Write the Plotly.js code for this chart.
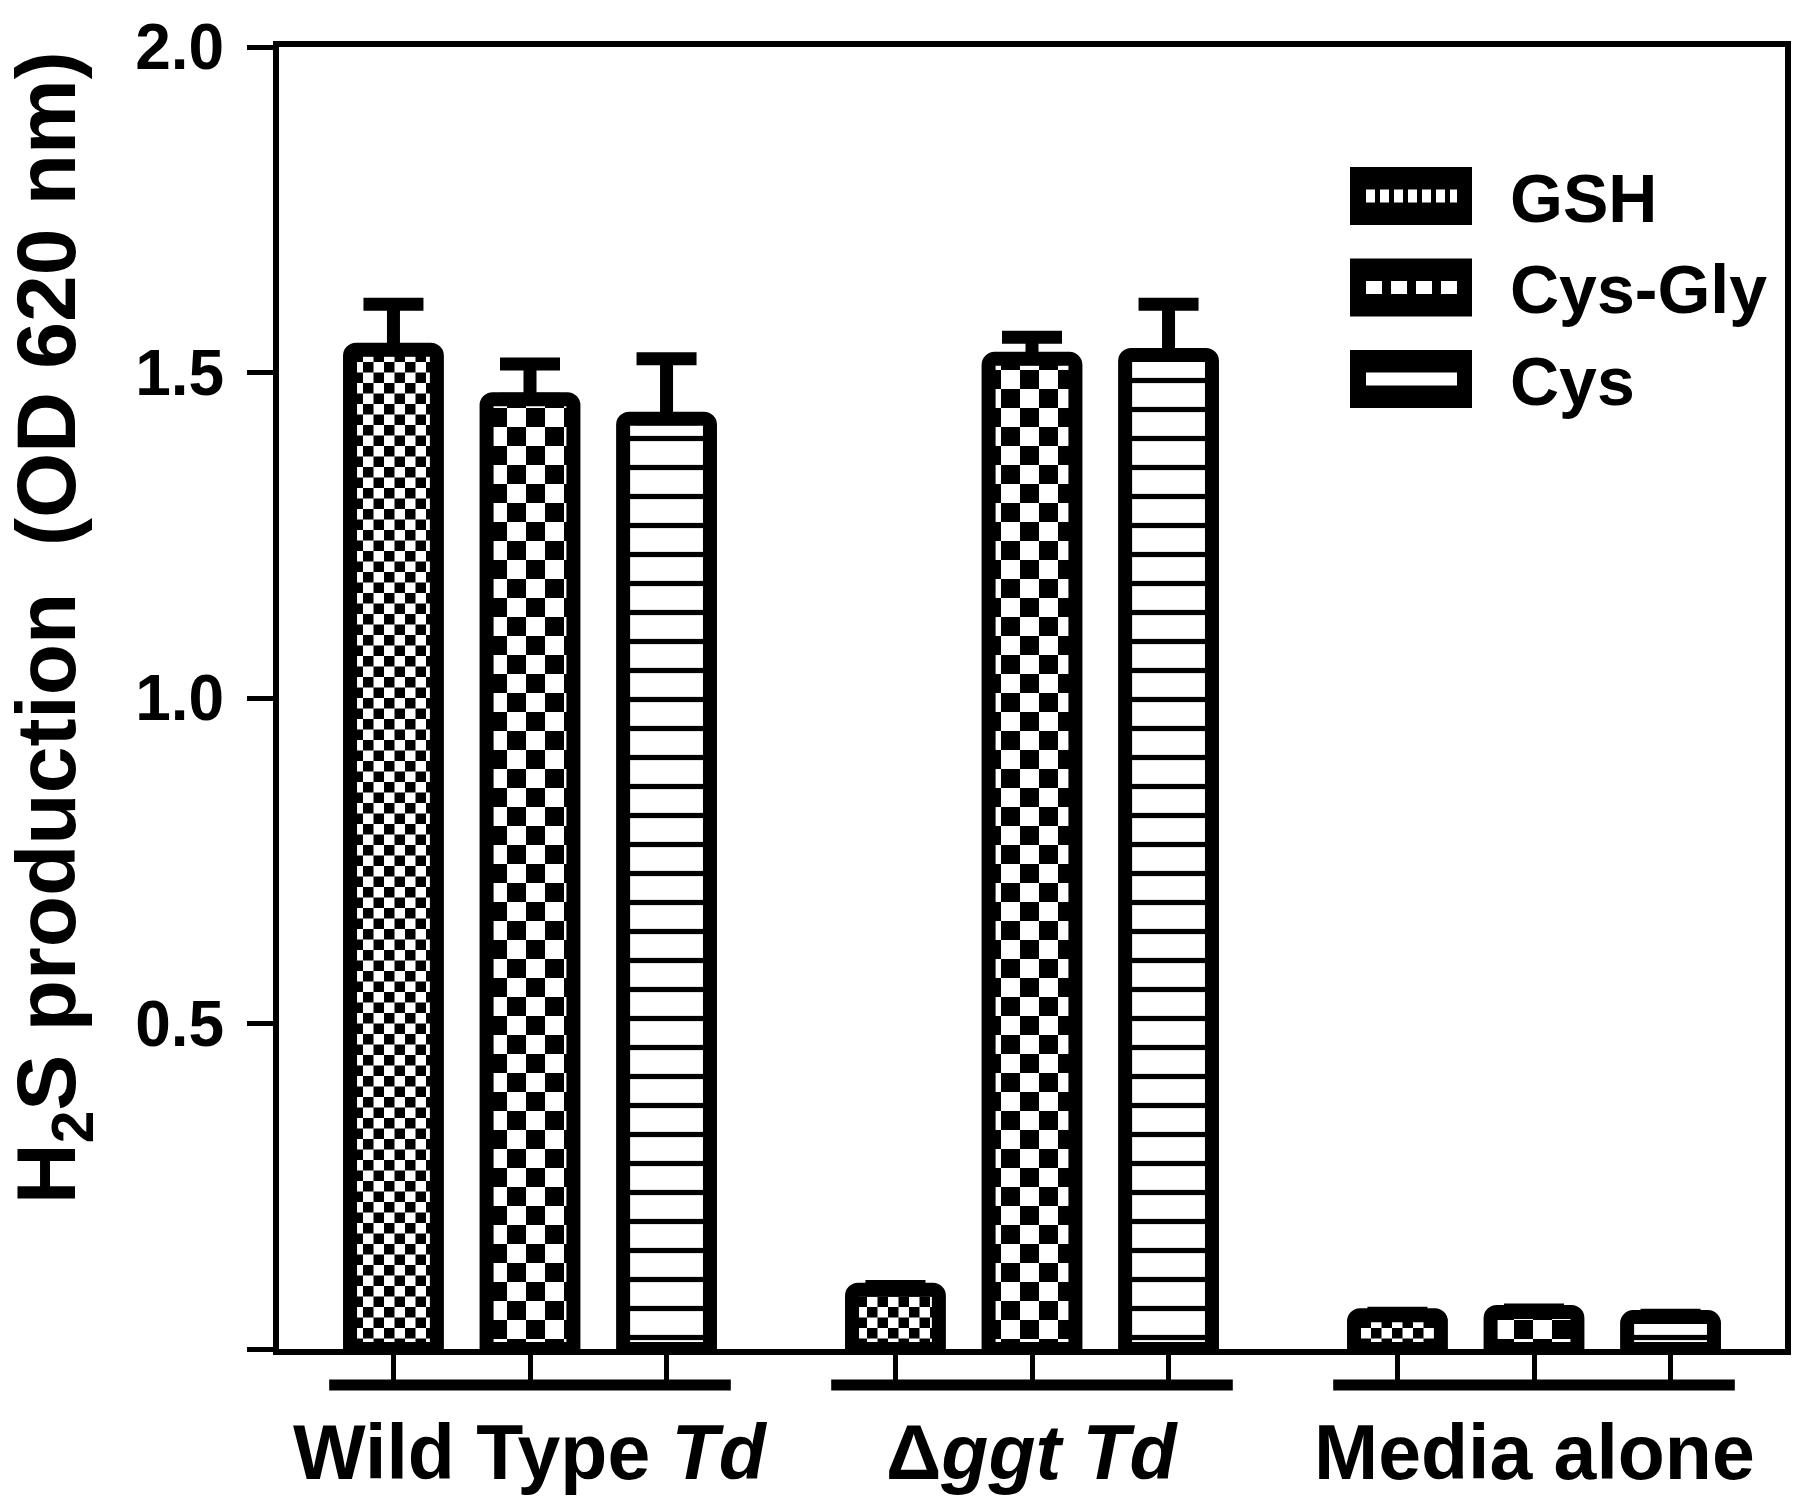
<!DOCTYPE html>
<html>
<head>
<meta charset="utf-8">
<script src="https://cdn.plot.ly/plotly-3.0.1.min.js"></script>
<style>html,body{margin:0;padding:0;background:#fff;}#chart{width:1800px;height:1506px;}</style>
</head>
<body>
<div id="chart"></div>
<script>
// ---- data ----
const groups = ['Wild Type <i>Td</i>', 'Δ<i>ggt</i> <i>Td</i>', 'Media alone'];
const seriesNames = ['GSH', 'Cys-Gly', 'Cys'];
const gshValues = [1.535, 0.091, 0.052];
const gshErrors = [0.070, 0.005, 0.003];
const cysGlyValues = [1.459, 1.521, 0.057];
const cysGlyErrors = [0.054, 0.033, 0.003];
const cysValues = [1.429, 1.527, 0.049];
const cysErrors = [0.092, 0.078, 0.003];
const yTickVals = [0.5, 1.0, 1.5, 2.0];
const yTickText = ['0.5', '1.0', '1.5', '2.0'];
const yZeroTick = [0];
const yTitle = 'H<sub>2</sub>S production  (OD 620 nm)';

// ---- style ----
const FONT = 'Liberation Sans, Arial, Helvetica, sans-serif';
const barStep = 0.272;   // spacing of bars inside a group (axis units)
const barWidth = 0.173;
const patterns = [
  {shape: '.', size: 21, solidity: 0.5},
  {shape: '.', size: 38, solidity: 0.5},
  {shape: '-', size: 29, solidity: 0.18}
];
const seriesValues = [gshValues, cysGlyValues, cysValues];
const seriesErrors = [gshErrors, cysGlyErrors, cysErrors];

const groupIdx = groups.map((g, i) => i);
const traces = seriesNames.map((name, s) => ({
  type: 'bar',
  name: name,
  x: groupIdx.map(g => g + (s - 1) * barStep),
  y: seriesValues[s],
  width: barWidth,
  marker: {
    color: 'white',
    line: {color: 'black', width: 14},
    cornerradius: 6,
    pattern: Object.assign({fgcolor: 'black', bgcolor: 'white', fillmode: 'replace'}, patterns[s])
  },
  error_y: {
    type: 'data', symmetric: false,
    array: seriesErrors[s],
    arrayminus: seriesErrors[s].map(() => 0),
    color: 'black', thickness: 13, width: 30
  },
  showlegend: false,
  hoverinfo: 'skip'
}));

const barPositions = [];
groupIdx.forEach(g => seriesNames.forEach((n, s) => barPositions.push(g + (s - 1) * barStep)));

// pixel -> paper helpers for the decorations
const P = {l: 279, r: 1785, t: 47, b: 1349};
const xp = px => (px - P.l) / (P.r - P.l);
const yp = py => (P.b - py) / (P.b - P.t);

const shapes = [];
const annotations = [];

// group brackets under the x axis
groupIdx.forEach(g => {
  shapes.push({type: 'line', xref: 'x', yref: 'paper', x0: g - 0.40, x1: g + 0.40,
    y0: yp(1385), y1: yp(1385), line: {color: 'black', width: 11}});
  annotations.push({xref: 'x', yref: 'paper', x: g, y: yp(1452), text: groups[g],
    showarrow: false, xanchor: 'center', yanchor: 'middle',
    font: {family: FONT, size: 77, color: 'black', weight: 'bold'}});
});

// legend (hand built: large patterned boxes with rounded corners)
const legendDash = ['9px,5px', '16px,9px', 'solid'];
function roundRect(x0, y0, x1, y1, r) {
  return `M${x0 + r},${y0} L${x1 - r},${y0} Q${x1},${y0} ${x1},${y0 + r} L${x1},${y1 - r} Q${x1},${y1} ${x1 - r},${y1} ` +
         `L${x0 + r},${y1} Q${x0},${y1} ${x0},${y1 - r} L${x0},${y0 + r} Q${x0},${y0} ${x0 + r},${y0} Z`;
}
seriesNames.forEach((name, i) => {
  const cy = 196 + i * 91.5;
  const rx = 0.006, ry = 0.007;
  shapes.push({type: 'path', xref: 'paper', yref: 'paper',
    path: roundRect(xp(1350), yp(cy + 29), xp(1472), yp(cy - 29), 0).replace(/Q[^L]*?(?=L|Z)/g, ''),
    fillcolor: 'black', line: {width: 0}});
  shapes.push({type: 'line', xref: 'paper', yref: 'paper', x0: xp(1366), x1: xp(1457),
    y0: yp(cy), y1: yp(cy), line: {color: 'white', width: 13, dash: legendDash[i]}});
  annotations.push({xref: 'paper', yref: 'paper', x: xp(1508), y: yp(cy + 2), text: name,
    showarrow: false, xanchor: 'left', yanchor: 'middle',
    font: {family: FONT, size: 68, color: 'black', weight: 'bold'}});
});

// y axis title
annotations.push({xref: 'paper', yref: 'paper', x: xp(52), y: yp(628), text: yTitle,
  textangle: -90, showarrow: false, xanchor: 'center', yanchor: 'middle',
  font: {family: FONT, size: 84, color: 'black', weight: 'bold'}});

const layout = {
  width: 1800, height: 1506,
  margin: {l: P.l, r: 1800 - P.r, t: P.t, b: 1506 - P.b, pad: 0},
  paper_bgcolor: 'white', plot_bgcolor: 'white',
  showlegend: false,
  font: {family: FONT, color: 'black'},
  xaxis: {
    range: [-0.5, 2.5], showgrid: false, zeroline: false,
    showline: true, linecolor: 'black', linewidth: 6, mirror: true,
    tickmode: 'array', tickvals: barPositions, showticklabels: false,
    ticks: 'outside', ticklen: 34, tickwidth: 5, tickcolor: 'black'
  },
  yaxis: {
    range: [0, 2], showgrid: false, zeroline: false,
    showline: true, linecolor: 'black', linewidth: 6, mirror: true,
    tickmode: 'array', tickvals: yTickVals, ticktext: yTickText,
    ticks: 'outside', ticklen: 26, tickwidth: 5, tickcolor: 'black',
    ticklabelstandoff: 10,
    tickfont: {family: FONT, size: 64, color: 'black', weight: 'bold'},
    minor: {tickmode: 'array', tickvals: yZeroTick, ticks: 'outside', ticklen: 26,
            tickwidth: 5, tickcolor: 'black', showgrid: false}
  },
  shapes: shapes,
  annotations: annotations
};

Plotly.newPlot('chart', traces, layout, {staticPlot: true}).then(gd => {
  // turn the dot patterns into checkerboards
  const NS = 'http://www.w3.org/2000/svg';
  gd.querySelectorAll('pattern').forEach(p => {
    const c = p.querySelector('circle');
    if (!c) return;
    const w = parseFloat(p.getAttribute('width'));
    const h = parseFloat(p.getAttribute('height'));
    c.remove();
    [[0, 0], [w / 2, h / 2]].forEach(([x, y]) => {
      const r = document.createElementNS(NS, 'rect');
      r.setAttribute('x', x); r.setAttribute('y', y);
      r.setAttribute('width', w / 2); r.setAttribute('height', h / 2);
      r.setAttribute('fill', 'black');
      p.appendChild(r);
    });
  });
});
</script>
</body>
</html>
